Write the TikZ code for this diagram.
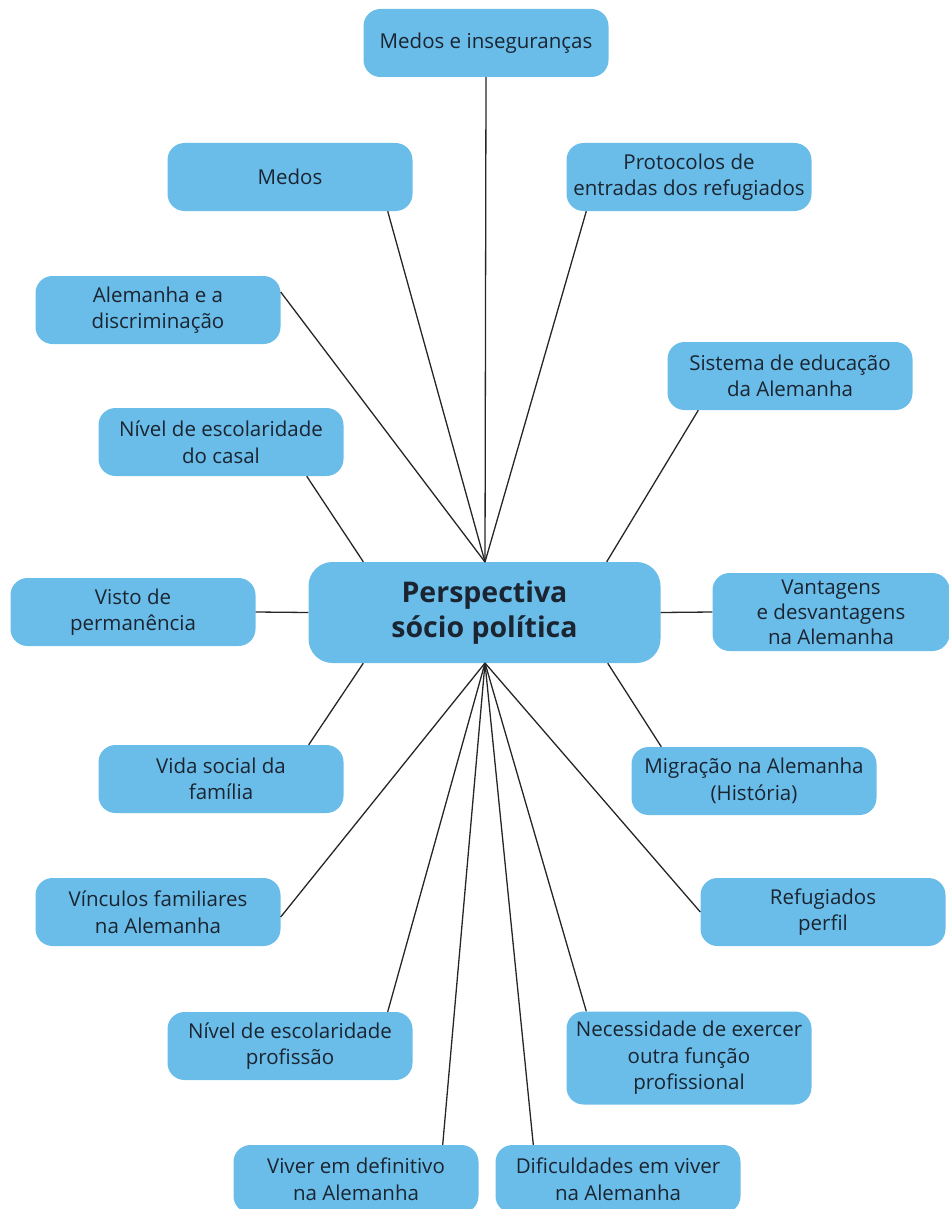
\documentclass[tikz,border=0pt]{standalone}
\usepackage{fontspec}
\setmainfont{Open Sans}
\definecolor{boxblue}{HTML}{6ABDE9}
\definecolor{ink}{HTML}{1B2431}
\definecolor{wire}{HTML}{262626}
\begin{document}
\begin{tikzpicture}[x=1pt,y=-1pt,
  topic/.style={rounded corners=17pt, fill=boxblue, draw=none, text=ink,
    minimum width=245pt, minimum height=68pt, align=center, inner sep=2pt,
    font=\fontsize{20.5}{26.5}\selectfont},
  hub/.style={rounded corners=24pt, fill=boxblue, draw=none, text=ink,
    minimum width=352pt, minimum height=101pt, align=center,
    font=\fontsize{28.5}{35}\selectfont\bfseries},
  link/.style={draw=wire, line width=1.3pt}]
\useasboundingbox (0,0) rectangle (949,1209);

% central topic
\node[hub] (ctr) at (484.5,612.5) {Perspectiva\\sócio política};
\coordinate (top) at (485,562);
\coordinate (bot) at (485,663);

% surrounding topics
\node[topic] (inseg)  at (486,43)   {Medos e inseguranças};
\node[topic] (medos)  at (290,177)  {Medos};
\node[topic] (prot)   at (689,177)  {Protocolos de\\entradas dos refugiados};
\node[topic] (disc)   at (158,310)  {Alemanha e a\\discriminação};
\node[topic] (sist)   at (790,376)  {Sistema de educação\\da Alemanha};
\node[topic] (casal)  at (221,442)  {Nível de escolaridade\\do casal};
\node[topic] (visto)  at (133,612)  {Visto de\\permanência};
\node[topic, minimum width=237pt, minimum height=78pt, font=\fontsize{20.5}{25}\selectfont] (vant) at (831,612)
  {Vantagens\\e desvantagens\\na Alemanha};
\node[topic] (vida)   at (221,779)  {Vida social da\\família};
\node[topic] (migr)   at (754,781)  {Migração na Alemanha\\(História)};
\node[topic] (vinc)   at (158,912)  {Vínculos familiares\\na Alemanha};
\node[topic] (refug)  at (823,912)  {Refugiados\\perfil};
\node[topic] (prof)   at (290,1046) {Nível de escolaridade\\profissão};
\node[topic, minimum height=93pt] (necess) at (689,1058)
  {Necessidade de exercer\\outra função\\profissional};
\node[topic] (viver)  at (356,1179) {Viver em definitivo\\na Alemanha};
\node[topic] (dific)  at (618,1179) {Dificuldades em viver\\na Alemanha};

% connectors meeting above the hub
\draw[link] (inseg.south) -- (top);
\draw[link] ([xshift=-25pt]medos.south east) -- (top);
\draw[link] ([xshift=20pt]prot.south west) -- (top);
\draw[link] ([yshift=18pt]disc.east) -- (top);

% connectors ending on the hub border
\draw[link] ([xshift=31pt]sist.south west) -- ([xshift=-54pt]ctr.north east);
\draw[link] ([xshift=-37pt]casal.south east) -- ([xshift=55pt]ctr.north west);
\draw[link] (visto.east) -- (ctr.west);
\draw[link] (vant.west) -- (ctr.east);
\draw[link] ([xshift=-35pt]vida.north east) -- ([xshift=55pt]ctr.south west);
\draw[link] ([xshift=30pt]migr.north west) -- ([xshift=-53pt]ctr.south east);

% connectors meeting below the hub
\draw[link] ([yshift=-5pt]vinc.east) -- (bot);
\draw[link] (refug.west) -- (bot);
\draw[link] ([xshift=-25pt]prof.north east) -- (bot);
\draw[link] ([xshift=20pt]necess.north west) -- (bot);
\draw[link] ([xshift=-36pt]viver.north east) -- (bot);
\draw[link] ([xshift=38pt]dific.north west) -- (bot);
\end{tikzpicture}
\end{document}
